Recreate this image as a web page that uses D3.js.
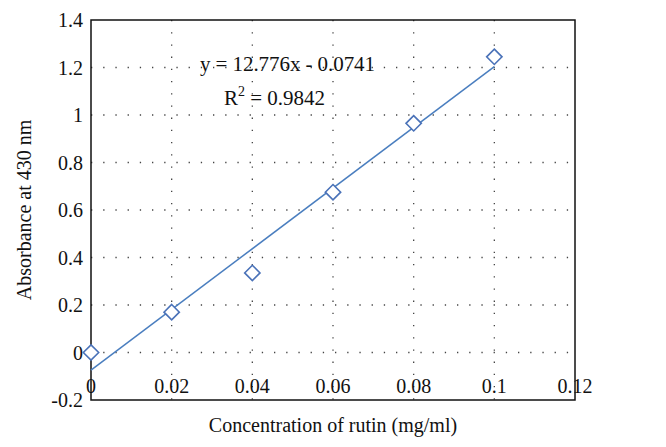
<!DOCTYPE html>
<html><head><meta charset="utf-8">
<script src="https://cdn.jsdelivr.net/npm/d3@7"></script>
<style>body{margin:0;background:#fff}svg{display:block}text{font-family:"Liberation Serif","Times New Roman",serif;fill:#111}</style>
</head><body><svg id="c" width="666" height="447"></svg>
<script>
const xValues = [0, 0.02, 0.04, 0.06, 0.08, 0.1];
const yValues = [0, 0.17, 0.335, 0.675, 0.965, 1.245];
const xTicks = [0, 0.02, 0.04, 0.06, 0.08, 0.1, 0.12];
const yTicks = [-0.2, 0, 0.2, 0.4, 0.6, 0.8, 1, 1.2, 1.4];
const slope = 12.776, intercept = -0.0741;
const eqLabel = "y = 12.776x - 0.0741";
const r2Value = "0.9842";

const svg = d3.select("#c");
const m = {l: 91, r: 91, t: 20, b: 47};
const W = 666, H = 447;
const x = d3.scaleLinear().domain([0, 0.12]).range([m.l, W - m.r]);
const y = d3.scaleLinear().domain([-0.2, 1.4]).range([H - m.b, m.t]);
const FS = 20;

// grid
svg.append("g").selectAll("line").data(yTicks.slice(1, -1)).join("line")
  .attr("x1", x(0)).attr("x2", x(0.12)).attr("y1", d => y(d)).attr("y2", d => y(d))
  .attr("stroke", "#444").attr("stroke-width", 1.3).attr("stroke-dasharray", "1.3,10.9");
svg.append("g").selectAll("line").data(xTicks.slice(1, -1)).join("line")
  .attr("x1", d => x(d)).attr("x2", d => x(d)).attr("y1", y(1.4)).attr("y2", y(-0.2))
  .attr("stroke", "#444").attr("stroke-width", 1.3).attr("stroke-dasharray", "1.3,10.9");

// frame
svg.append("rect").attr("x", x(0)).attr("y", y(1.4)).attr("width", x(0.12) - x(0)).attr("height", y(-0.2) - y(1.4))
  .attr("fill", "none").attr("stroke", "#111").attr("stroke-width", 1.5);

// y tick labels
svg.append("g").selectAll("text").data(yTicks).join("text")
  .attr("x", x(0) - 8).attr("y", d => y(d)).attr("dy", "0.35em").attr("text-anchor", "end")
  .attr("font-size", FS).text(d => String(d));
// x tick labels (axis crosses at y=0)
svg.append("g").selectAll("text").data(xTicks).join("text")
  .attr("x", d => x(d)).attr("y", y(0) + 40).attr("text-anchor", "middle")
  .attr("font-size", FS).text(d => String(d));

// trendline
svg.append("line").attr("x1", x(0)).attr("y1", y(intercept)).attr("x2", x(0.1)).attr("y2", y(slope * 0.1 + intercept))
  .attr("stroke", "#4a7ebf").attr("stroke-width", 1.5);

// markers
const sym = d3.symbol().type(d3.symbolDiamond2).size(150);
svg.append("g").selectAll("path").data(xValues.map((v, i) => [v, yValues[i]])).join("path")
  .attr("d", sym).attr("transform", d => `translate(${x(d[0])},${y(d[1])})`)
  .attr("fill", "#fff").attr("stroke", "#4a72b8").attr("stroke-width", 1.6);

// equation
svg.append("text").attr("x", 200).attr("y", 71).attr("font-size", 21).attr("textLength", 175).text(eqLabel);
const r2 = svg.append("text").attr("x", 224).attr("y", 105).attr("font-size", 21);
r2.append("tspan").text("R");
r2.append("tspan").attr("font-size", 14).attr("dy", -9).text("2");
r2.append("tspan").attr("dy", 9).text(" = " + r2Value);

// axis titles
svg.append("text").attr("x", (x(0) + x(0.12)) / 2).attr("y", 432).attr("text-anchor", "middle")
  .attr("font-size", FS).text("Concentration of rutin (mg/ml)");
svg.append("text").attr("transform", `translate(31,${(y(1.4) + y(-0.2)) / 2}) rotate(-90)`)
  .attr("text-anchor", "middle").attr("font-size", FS).text("Absorbance at 430 nm");
</script></body></html>
